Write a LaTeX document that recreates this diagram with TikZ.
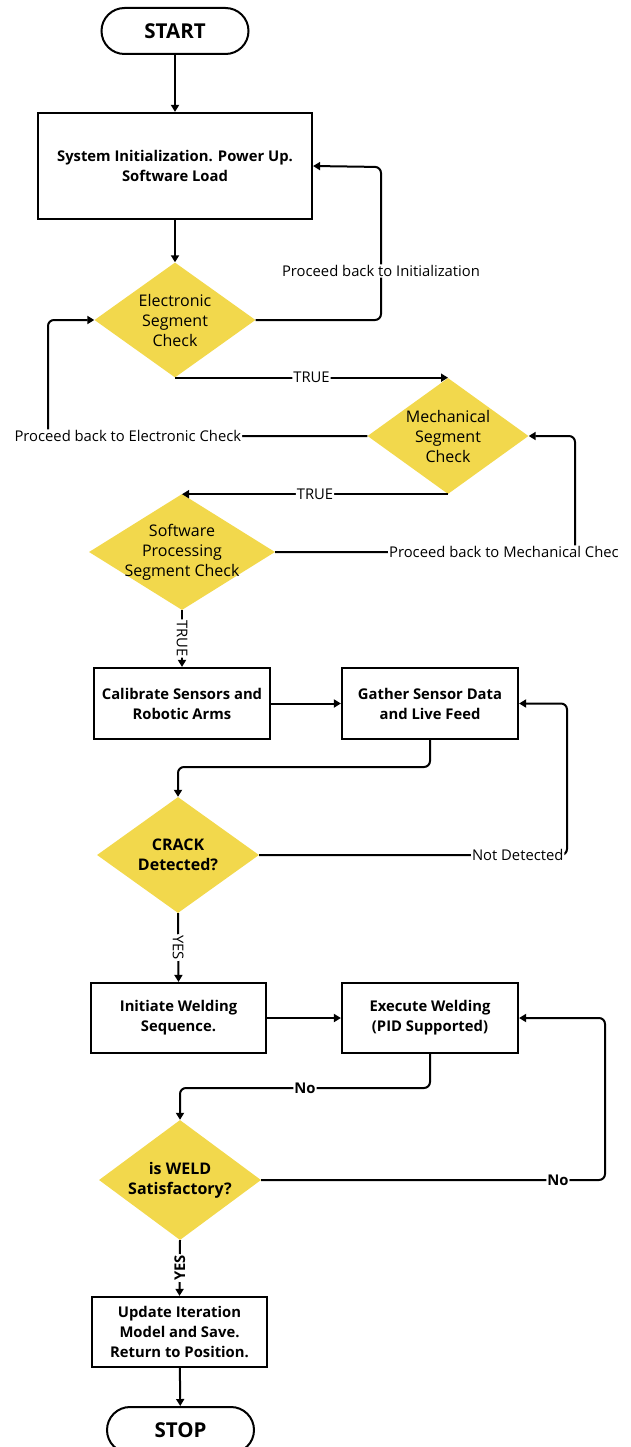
\documentclass[tikz,border=0pt]{standalone}
\usepackage{fontspec}
\setmainfont{Open Sans}
\usetikzlibrary{arrows.meta,shapes.geometric}
\definecolor{dyellow}{RGB}{242,216,76}
\begin{document}
\begin{tikzpicture}[x=1pt,y=-1pt,
  term/.style={draw, line width=2pt, rounded corners=23pt, minimum width=147pt, minimum height=46pt, font=\fontsize{20.5}{22}\selectfont\bfseries},
  proc/.style={draw, line width=2.2pt, align=center, inner sep=0pt, font=\fontsize{14.8}{20}\selectfont\bfseries},
  dec/.style={diamond, fill=dyellow, inner sep=0pt, aspect=1.4},
  dtext/.style={align=center, inner sep=0pt, font=\fontsize{16}{20}\selectfont},
  dbtext/.style={dtext, font=\fontsize{16}{20}\selectfont\bfseries},
  conn/.style={line width=2pt, rounded corners=6pt, -{Triangle[length=7pt,width=8pt]}},
  lab/.style={fill=white, inner sep=1pt, font=\fontsize{14.8}{16}\selectfont},
  blab/.style={lab, font=\fontsize{14.8}{16}\selectfont\bfseries},
]
\useasboundingbox (0,0) rectangle (631,1447);

% nodes
\node[term] (start) at (175,31) {START};
\node[proc, minimum width=274pt, minimum height=106pt] (init) at (175,166) {System Initialization. Power Up.\\Software Load};

\node[dec, minimum width=161pt, minimum height=115pt] (elec) at (175,320) {};
\node[dtext] (elect) at (elec) {Electronic\\Segment\\Check};

\node[dec, minimum width=161pt, minimum height=116pt] (mech) at (448,436) {};
\node[dtext] (mecht) at (mech) {Mechanical\\Segment\\Check};

\node[dec, minimum width=186pt, minimum height=116pt] (soft) at (182,552) {};
\node[dtext] (softt) at (soft) {Software\\Processing\\Segment Check};

\node[proc, minimum width=176pt, minimum height=71pt] (cal) at (182,703.5) {Calibrate Sensors and\\Robotic Arms};
\node[proc, minimum width=176pt, minimum height=71pt] (gather) at (430,703.5) {Gather Sensor Data\\and Live Feed};

\node[dec, minimum width=162pt, minimum height=116pt] (crack) at (178,855) {};
\node[dbtext] (crackt) at (crack) {CRACK\\Detected?};

\node[proc, minimum width=175pt, minimum height=70pt] (initw) at (178.5,1018) {Initiate Welding\\Sequence.};
\node[proc, minimum width=176pt, minimum height=70pt] (exec) at (430,1018) {Execute Welding\\(PID Supported)};

\node[dec, minimum width=162pt, minimum height=120pt] (weld) at (180,1180) {};
\node[dbtext] (weldt) at (weld) {is WELD\\Satisfactory?};

\node[proc, minimum width=175pt, minimum height=70pt] (update) at (179.5,1332) {Update Iteration\\Model and Save.\\Return to Position.};
\node[term] (stop) at (180.5,1430) {STOP};

% bend points
\coordinate (r1) at (381,167);
\coordinate (lc) at (48,436);
\coordinate (rc) at (575,552);
\coordinate (m1) at (304,767);
\coordinate (nd) at (567,855);
\coordinate (m2) at (305,1088);
\coordinate (wr) at (605,1180);

% connectors
\draw[conn] (start) -- (init);
\draw[conn] (init) -- (elec);
\draw[conn] (elec.east) -| node[lab, pos=0.66] {Proceed back to Initialization} (r1) -- (init.east);
\draw[conn] (elec.south) -- node[lab] {TRUE} (elec.south -| mech.north);
\draw[conn] (mech.west) -- node[lab, pos=0.75] {Proceed back to Electronic Check} (lc) |- (elec.west);
\draw[conn] (mech.south) -- node[lab] {TRUE} (mech.south -| soft.north);
\draw[conn] (soft.east) -- node[lab, pos=0.763] {Proceed back to Mechanical Chec} (rc) |- (mech.east);
\draw[conn] (soft.south) -- node[lab, rotate=-90] {TRUE} (cal.north);
\draw[conn] (cal.east) -- (gather.west);
\draw[conn] (gather.south) |- (m1) -| (crack.north);
\draw[conn] (crack.east) -- node[lab, pos=0.84] {Not Detected} (nd) |- (gather.east);
\draw[conn] (crack.south) -- node[lab, rotate=-90] {YES} (initw.north);
\draw[conn] (initw.east) -- (exec.west);
\draw[conn] (exec.south) |- node[blab, pos=1] {No} (m2) -| (weld.north);
\draw[conn] (weld.east) -- node[blab, pos=0.863] {No} (wr) |- (exec.east);
\draw[conn] (weld.south) -- node[blab, rotate=90] {YES} (update.north);
\draw[conn] (update) -- (stop);
\end{tikzpicture}
\end{document}
